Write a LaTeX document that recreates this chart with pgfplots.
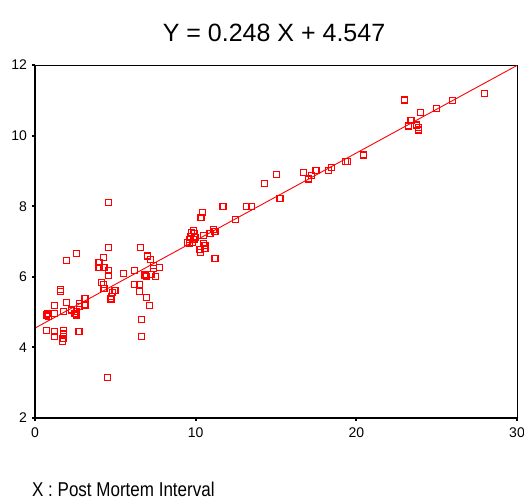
\documentclass[border=0pt]{standalone}
\usepackage{pgfplots}
\pgfplotsset{compat=1.18}
\usepackage{fontspec}
\setmainfont{Liberation Sans}
\begin{document}
\begin{tikzpicture}[x=1pt,y=1pt]
\path[use as bounding box] (0,0) rectangle (524,499);
\begin{axis}[
  at={(35pt,81pt)}, anchor=south west,
  scale only axis, width=482pt, height=353pt,
  xmin=0, xmax=30, ymin=2, ymax=12,
  xtick={0,10,20,30}, ytick={2,4,6,8,10,12},
  tick align=outside,
  major tick length=2.5pt,
  tick style={black, line width=2pt},
  xtick pos=bottom, ytick pos=left,
  axis line style={black, line width=0.8pt},
  ticklabel style={font=\fontsize{14}{14}\selectfont},
  /pgf/number format/assume math mode=true,
  xticklabel style={yshift=-4pt},
  yticklabel style={xshift=-2pt},
  clip=false,
]
\addplot[red, line width=0.9pt] coordinates {(0,4.547) (30,11.987)};
\addplot[only marks, mark=square, mark size=3pt, draw=red, mark options={draw=red, fill=none, line width=1.15pt}] table {
x y
0.73 4.92
0.83 4.87
0.78 4.95
0.73 4.49
1.20 4.44
1.20 4.30
1.24 4.95
1.20 5.18
1.60 5.65
1.60 5.58
1.76 4.47
1.76 4.38
1.74 4.26
1.72 4.17
1.80 5.01
1.97 5.27
1.97 6.46
2.59 6.65
2.28 5.06
2.49 4.97
2.59 5.01
2.59 4.92
2.74 4.44
2.76 5.25
2.76 5.15
3.11 5.39
3.11 5.20
3.98 6.40
3.98 6.27
4.29 6.27
4.25 6.55
4.60 6.83
4.60 8.10
4.58 6.17
4.58 6.04
4.15 5.83
4.25 5.77
4.29 5.68
4.98 5.60
4.83 5.55
4.77 5.45
4.73 5.37
4.50 3.15
5.50 6.10
6.18 6.19
6.58 6.83
7.01 6.59
7.20 6.50
7.36 6.33
7.36 6.24
7.73 6.27
6.85 6.05
6.95 6.00
7.22 6.07
7.51 6.00
6.18 5.79
6.49 5.79
6.49 5.58
6.95 5.42
7.11 5.18
6.64 4.78
6.64 4.32
9.50 6.97
9.60 7.05
9.70 7.15
9.75 7.25
9.85 7.30
9.95 7.22
9.90 7.05
10.00 7.12
9.80 6.98
9.60 6.95
10.47 6.95
10.58 6.88
10.27 6.78
10.31 6.68
10.58 6.80
11.20 6.52
10.47 7.18
10.89 7.23
11.10 7.35
11.20 7.28
10.43 7.82
10.33 7.67
11.70 8.00
12.47 7.63
13.17 8.00
13.48 8.00
14.31 8.65
15.04 8.91
15.25 8.22
16.70 8.96
17.00 8.77
17.22 8.86
17.49 9.00
18.25 9.00
18.46 9.10
19.35 9.27
19.45 9.27
20.43 9.45
22.98 11.01
23.23 10.27
23.40 10.42
23.75 10.30
23.85 10.23
23.85 10.16
24.00 10.66
25.00 10.77
25.99 11.00
28.00 11.20
};
\draw[black, line width=1.8pt] (rel axis cs:0,1) -- (rel axis cs:0,0) -- (rel axis cs:1,0);
\end{axis}
\node[font=\fontsize{25}{25}\selectfont] at (274,466) {Y = 0.248 X + 4.547};
\node[anchor=base west, font=\fontsize{20}{20}\selectfont, inner sep=0pt] at (32,3) {\scalebox{0.85}[1]{X : Post Mortem Interval}};
\end{tikzpicture}
\end{document}
